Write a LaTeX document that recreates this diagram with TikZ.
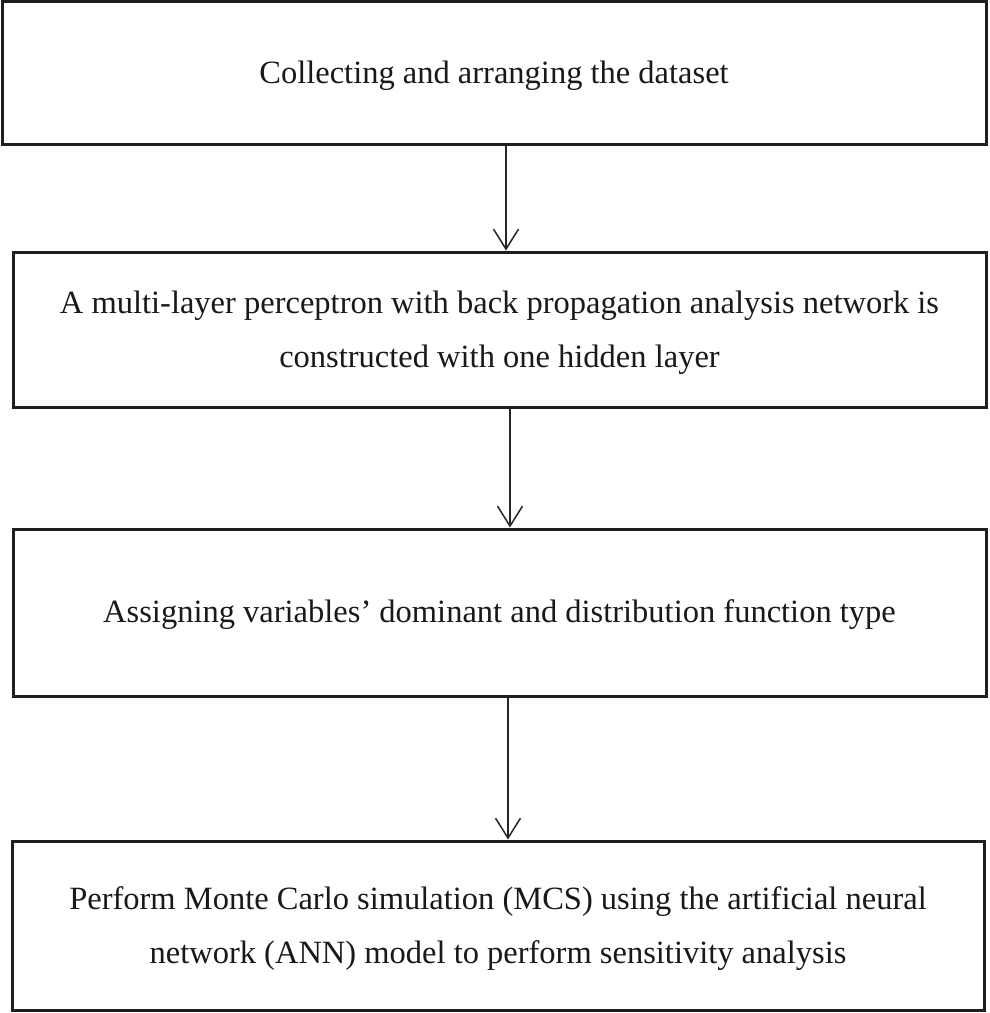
\documentclass[tikz,border=0pt]{standalone}
\usepackage{fontspec}
\setmainfont{Liberation Serif}
\usetikzlibrary{arrows.meta}
\begin{document}
\begin{tikzpicture}[x=1pt,y=-1pt,
  box/.style={draw=black!88, line width=3pt, fill=white, inner sep=0pt},
  txt/.style={align=center, inner sep=0pt, font=\fontsize{32.5}{54}\selectfont, text=black!90},
  arr/.style={draw=black!85, line width=1.5pt, -{Straight Barb[length=20pt,width=25pt,line width=1.5pt]}}]
\useasboundingbox (0,0) rectangle (989,1013);
\node[box, minimum width=984pt, minimum height=143pt] (b1) at (494,72.5) {};
\node[box, minimum width=973pt, minimum height=155pt] (b2) at (499.5,329.5) {};
\node[box, minimum width=973pt, minimum height=167pt] (b3) at (499.5,612.5) {};
\node[box, minimum width=972pt, minimum height=169pt] (b4) at (498,925.5) {};
\node[txt] (t1) at ([yshift=-3pt]b1.center) {Collecting and arranging the dataset};
\node[txt] (t2) at ([yshift=-3pt]b2.center) {A multi-layer perceptron with back propagation analysis network is\\constructed with one hidden layer};
\node[txt] (t3) at ([yshift=-2pt]b3.center) {Assigning variables’ dominant and distribution function type};
\node[txt] (t4) at ([yshift=-3pt]b4.center) {Perform Monte Carlo simulation (MCS) using the artificial neural\\network (ANN) model to perform sensitivity analysis};
\coordinate (x1) at (506,0);
\coordinate (x2) at (510,0);
\coordinate (x3) at (508,0);
\draw[arr] (b1.south -| x1) -- (b2.north -| x1);
\draw[arr] (b2.south -| x2) -- (b3.north -| x2);
\draw[arr] (b3.south -| x3) -- (b4.north -| x3);
\end{tikzpicture}
\end{document}
